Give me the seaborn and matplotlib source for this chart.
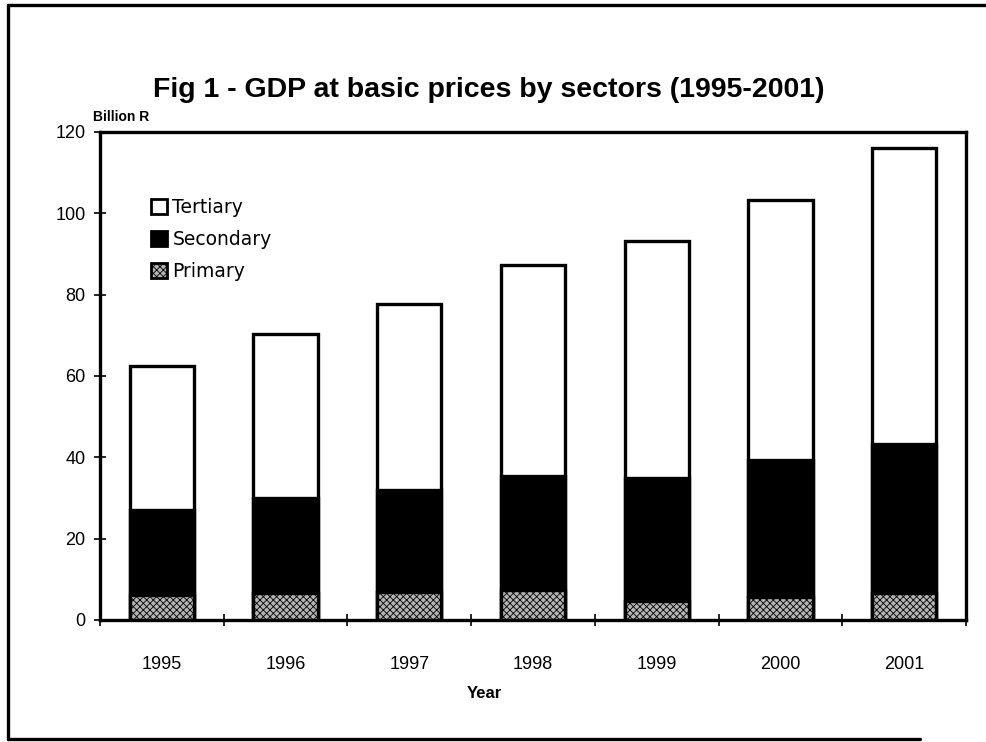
import matplotlib
matplotlib.use("Agg")
import matplotlib.pyplot as plt
from matplotlib.patches import Patch
from matplotlib.lines import Line2D
import numpy as np
import pandas as pd
import seaborn as sns

# GDP at basic prices by sector, billion rupees
years = ["1995", "1996", "1997", "1998", "1999", "2000", "2001"]
primary = [6.1, 6.7, 6.9, 7.4, 4.7, 5.6, 6.6]
secondary = [20.9, 23.3, 25.1, 28.0, 30.2, 33.7, 36.6]
tertiary = [35.4, 40.3, 45.6, 51.8, 58.2, 64.1, 72.8]
y_ticks = [0, 20, 40, 60, 80, 100, 120]

sns.set_style("white")
plt.rcParams["font.family"] = ["Liberation Sans", "DejaVu Sans"]
plt.rcParams["hatch.linewidth"] = 0.6
plt.rcParams["text.color"] = "black"
plt.rcParams["xtick.color"] = "black"
plt.rcParams["ytick.color"] = "black"
plt.rcParams["axes.labelcolor"] = "black"

df = pd.DataFrame({"year": years, "primary": primary,
                   "secondary": secondary, "tertiary": tertiary})
df["lower2"] = df["primary"] + df["secondary"]
df["total"] = df["lower2"] + df["tertiary"]

fig = plt.figure(figsize=(9.86, 7.42), dpi=100)
ax = fig.add_axes([100 / 986, 1 - 620 / 742, 866 / 986, 488 / 742])

bw = 0.52
lw = 2.4
sns.barplot(data=df, x="year", y="total", color="white", edgecolor="black",
            linewidth=lw, width=bw, ax=ax, saturation=1)
sns.barplot(data=df, x="year", y="lower2", color="black", edgecolor="black",
            linewidth=lw, width=bw, ax=ax, saturation=1)
sns.barplot(data=df, x="year", y="primary", color="#b4b4b4", edgecolor="black",
            linewidth=lw, width=bw, ax=ax, saturation=1, hatch="xxxxx")

ax.set_xlim(-0.5, len(years) - 0.5)
ax.set_ylim(0, 120)
ax.set_yticks(y_ticks)
ax.set_yticklabels([str(v) for v in y_ticks], fontsize=13)
ax.tick_params(axis="y", direction="inout", length=9, width=1.2, pad=6,
               left=True, colors="black")

# ticks on category boundaries, labels on category centres
ax.set_xticks(np.arange(len(years) + 1) - 0.5)
ax.set_xticklabels([""] * (len(years) + 1))
ax.set_xticks(np.arange(len(years)), minor=True)
ax.set_xticklabels(years, minor=True, fontsize=13)
ax.tick_params(axis="x", which="major", direction="inout", length=9,
               width=1.2, bottom=True, colors="black")
ax.tick_params(axis="x", which="minor", length=0, pad=26, colors="black")

ax.set_xlabel("")
ax.set_ylabel("")

for s in ax.spines.values():
    s.set_visible(True)
    s.set_linewidth(2.4)
    s.set_color("black")

handles = [
    Patch(facecolor="white", edgecolor="black", linewidth=2.0, label="Tertiary"),
    Patch(facecolor="black", edgecolor="black", linewidth=2.0, label="Secondary"),
    Patch(facecolor="#b4b4b4", edgecolor="black", linewidth=2.0,
          hatch="xxxxx", label="Primary"),
]
ax.legend(handles=handles, loc="upper left", bbox_to_anchor=(0.05, 0.88),
          frameon=False, prop={"family": "DejaVu Sans", "size": 13.5},
          handlelength=0.85, handleheight=0.85, labelcolor="black",
          handletextpad=0.3, labelspacing=0.7, borderaxespad=0)

fig.text(489 / 986, 1 - 90 / 742, "Fig 1 - GDP at basic prices by sectors (1995-2001)",
         ha="center", va="center", fontsize=20.5, fontweight="bold",
         color="black")
fig.text(93 / 986, 1 - 117 / 742, "Billion R", ha="left", va="center",
         fontsize=10, fontweight="bold", color="black")
fig.text(484 / 986, 1 - 694 / 742, "Year", ha="center", va="center",
         fontsize=12, fontweight="bold", color="black")

# outer frame
fig.add_artist(Line2D([8 / 986, 8 / 986], [1 - 739 / 742, 1 - 5 / 742],
                      transform=fig.transFigure, color="black", lw=2.4))
fig.add_artist(Line2D([8 / 986, 1.0], [1 - 5 / 742, 1 - 5 / 742],
                      transform=fig.transFigure, color="black", lw=2.4))
fig.add_artist(Line2D([8 / 986, 920 / 986], [1 - 739 / 742, 1 - 739 / 742],
                      transform=fig.transFigure, color="black", lw=2.4))

fig.savefig("out.png", dpi=100)
